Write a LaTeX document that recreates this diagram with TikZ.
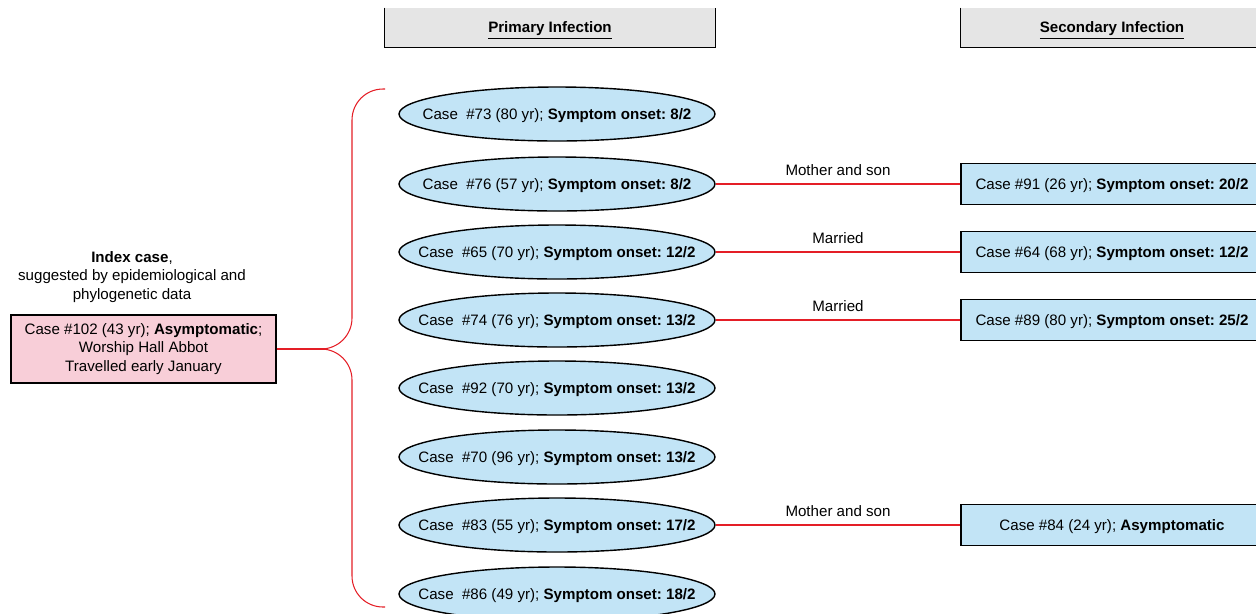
\documentclass[tikz,border=0pt]{standalone}
\usepackage{fontspec}
\setmainfont{Liberation Sans}
\usetikzlibrary{shapes.geometric}

\definecolor{caseblue}{RGB}{194,228,246}
\definecolor{indexpink}{RGB}{248,206,216}
\definecolor{headgray}{RGB}{229,229,229}
\definecolor{linkred}{RGB}{228,30,38}

\tikzset{
  casefont/.style={font=\fontsize{8.6}{10.4}\selectfont\frenchspacing},
  primarycase/.style={ellipse, draw=black, thick, fill=caseblue, casefont, text depth=0pt,
    minimum width=6.32cm, minimum height=1.08cm, inner xsep=-0.6cm, inner ysep=0pt},
  secondcase/.style={rectangle, draw=black, thick, fill=caseblue, casefont, text depth=0pt,
    minimum width=6.04cm, minimum height=0.82cm, inner sep=0pt},
  headbox/.style={rectangle, fill=headgray, casefont, text depth=0pt, inner sep=0pt},
  link/.style={draw=linkred, line width=0.6pt},
  linklabel/.style={casefont, above, yshift=1pt}
}

\begin{document}
\begin{tikzpicture}

  \useasboundingbox (0,0) rectangle (25.12,-12.26);

  % Column headers
  \node[headbox, minimum width=6.6cm, minimum height=0.78cm] (primary) at (11.0,-0.55) {\underline{\textbf{Primary Infection}}};
  \draw[thick] (primary.north west) |- (primary.south east) -- (primary.north east);
  \node[headbox, minimum width=6.04cm, minimum height=0.78cm] (secondary) at (22.24,-0.55) {\underline{\textbf{Secondary Infection}}};
  \draw[thick] (secondary.north west) |- (secondary.south east) -- (secondary.north east);

  % Index case
  \node[casefont, align=center] (indexlabel) at (2.64,-5.54) {\textbf{Index case},\\suggested by epidemiological and\\phylogenetic data};
  \node[rectangle, draw=black, thick, fill=indexpink, casefont, align=center,
    minimum width=5.3cm, minimum height=1.36cm, inner sep=0pt] (index) at (2.87,-6.98)
    {Case \#102 (43 yr); \textbf{Asymptomatic};\\Worship Hall Abbot\\Travelled early January};

  % Brace to the primary cases
  \coordinate (cusp) at (6.50,-6.98);
  \coordinate (bracetop) at (7.70,-1.78);
  \coordinate (bracebottom) at (7.70,-12.14);
  \draw[link] (index.east) -- (cusp);
  \draw[link, rounded corners=0.62cm] (cusp) -| (7.04,-1.78) -- (bracetop);
  \draw[link, rounded corners=0.62cm] (cusp) -| (7.04,-12.14) -- (bracebottom);

  % Primary infection cases
  \node[primarycase] (c73) at (11.14,-2.28) {Case\ \ \#73 (80 yr); \textbf{Symptom onset: 8/2}};
  \node[primarycase] (c76) at (11.14,-3.68) {Case\ \ \#76 (57 yr); \textbf{Symptom onset: 8/2}};
  \node[primarycase] (c65) at (11.14,-5.04) {Case\ \ \#65 (70 yr); \textbf{Symptom onset: 12/2}};
  \node[primarycase] (c74) at (11.14,-6.40) {Case\ \ \#74 (76 yr); \textbf{Symptom onset: 13/2}};
  \node[primarycase] (c92) at (11.14,-7.76) {Case\ \ \#92 (70 yr); \textbf{Symptom onset: 13/2}};
  \node[primarycase] (c70) at (11.14,-9.14) {Case\ \ \#70 (96 yr); \textbf{Symptom onset: 13/2}};
  \node[primarycase] (c83) at (11.14,-10.50) {Case\ \ \#83 (55 yr); \textbf{Symptom onset: 17/2}};
  \node[primarycase] (c86) at (11.14,-11.88) {Case\ \ \#86 (49 yr); \textbf{Symptom onset: 18/2}};

  % Secondary infection cases
  \node[secondcase] (c91) at (22.24,-3.68) {Case \#91 (26 yr); \textbf{Symptom onset: 20/2}};
  \node[secondcase] (c64) at (22.24,-5.04) {Case \#64 (68 yr); \textbf{Symptom onset: 12/2}};
  \node[secondcase] (c89) at (22.24,-6.40) {Case \#89 (80 yr); \textbf{Symptom onset: 25/2}};
  \node[secondcase] (c84) at (22.24,-10.50) {Case \#84 (24 yr); \textbf{Asymptomatic}};

  % Household links
  \draw[link] (c76.east) -- node[linklabel] {Mother and son} (c91.west);
  \draw[link] (c65.east) -- node[linklabel] {Married} (c64.west);
  \draw[link] (c74.east) -- node[linklabel] {Married} (c89.west);
  \draw[link] (c83.east) -- node[linklabel] {Mother and son} (c84.west);

\end{tikzpicture}
\end{document}
